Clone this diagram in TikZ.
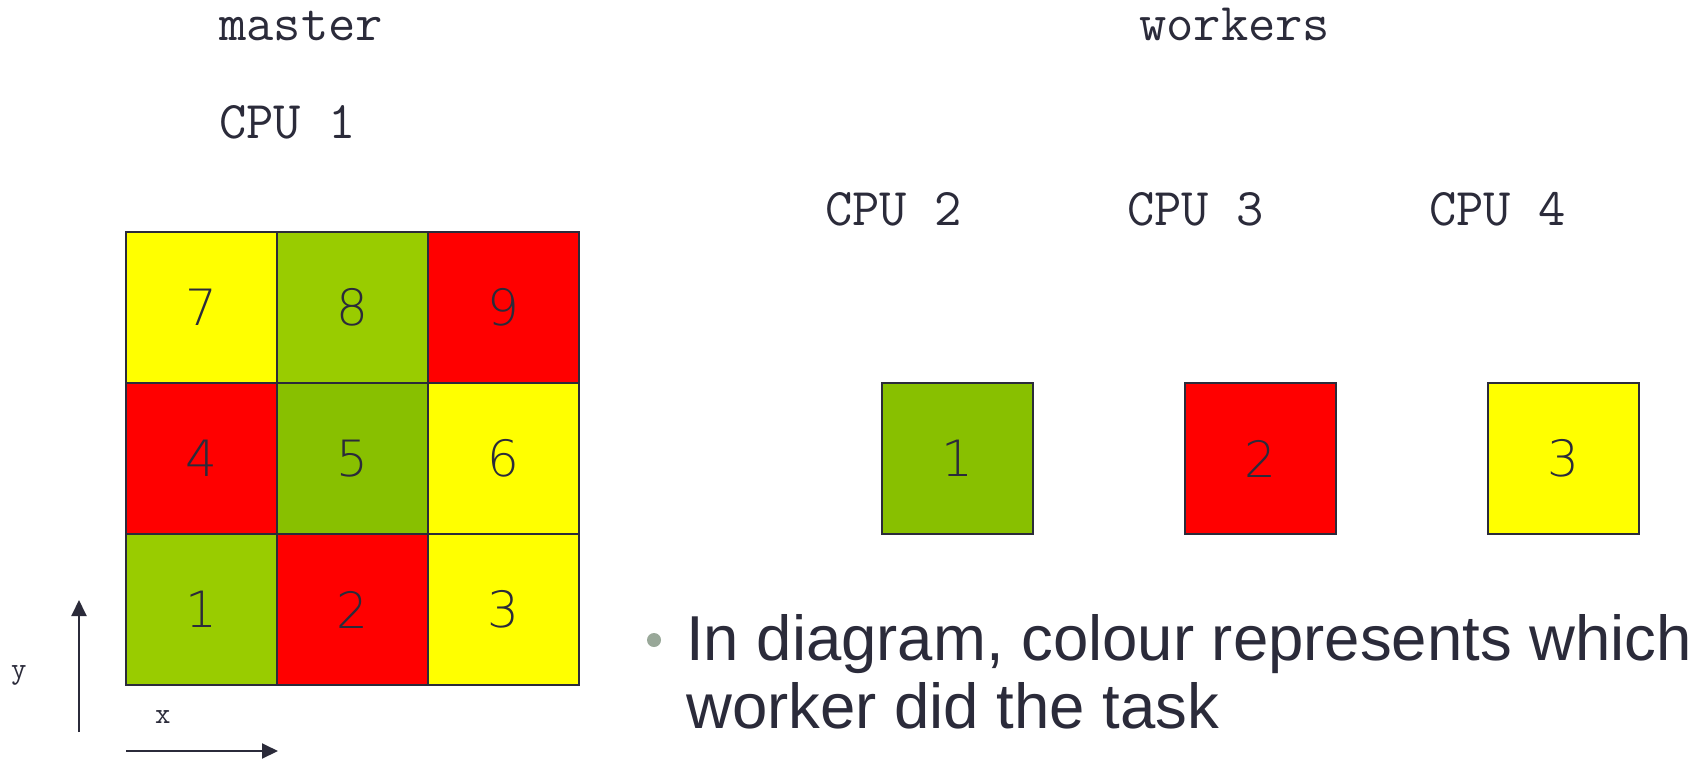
\documentclass[tikz,border=0pt]{standalone}
\usepackage{fontspec}
\setmainfont{Liberation Sans}
\newfontfamily\digitfont{DejaVu Sans ExtraLight}
\usepackage{tikz}
\usetikzlibrary{arrows.meta}

\definecolor{ink}{HTML}{2B2B3A}
\definecolor{lime}{HTML}{99CC00}
\definecolor{leaf}{HTML}{88C000}
\definecolor{cred}{HTML}{FF0000}
\definecolor{cyellow}{HTML}{FFFF00}
\definecolor{bulletgrey}{HTML}{99A899}

\begin{document}
\begin{tikzpicture}
			[x=1pt,y=-1pt,
			cell/.style= {draw=ink,line width=2.5pt,minimum size=151pt,inner sep=0pt,text=ink,font=\digitfont\fontsize{50}{50}\selectfont},
			lbl/.style= {anchor=base west,inner sep=0pt,text=ink,font=\ttfamily\fontsize{53}{53}\selectfont},
			axislbl/.style= {anchor=base west,inner sep=0pt,text=ink,font=\ttfamily\fontsize{30}{30}\selectfont},
			axis/.style= {draw=ink,line width=2pt,-{Triangle[length=16pt,width=15pt]}}]

			\useasboundingbox (0,0) rectangle (1707,761);

			% labels
			\node[lbl] (master) at (219,40) {master};
			\node[lbl] (cpu1) at (219,138) {CPU 1};
			\node[lbl] (workers) at (1139,40) {workers};
			\node[lbl] (cpu2) at (825,225) {CPU 2};
			\node[lbl] (cpu3) at (1127,225) {CPU 3};
			\node[lbl] (cpu4) at (1429,225) {CPU 4};

			% master grid
			\node[cell,fill=cyellow] (c7) at (201.5,307.5) {7};
			\node[cell,fill=lime] (c8) at (352.5,307.5) {8};
			\node[cell,fill=cred] (c9) at (503.5,307.5) {9};
			\node[cell,fill=cred] (c4) at (201.5,458.5) {4};
			\node[cell,fill=leaf] (c5) at (352.5,458.5) {5};
			\node[cell,fill=cyellow] (c6) at (503.5,458.5) {6};
			\node[cell,fill=lime] (c1) at (201.5,609.5) {1};
			\node[cell,fill=cred] (c2) at (352.5,609.5) {2};
			\node[cell,fill=cyellow] (c3) at (503.5,609.5) {3};

			% workers
			\node[cell,fill=leaf] (w1) at (957.5,458.5) {1};
			\node[cell,fill=cred] (w2) at (1260.5,458.5) {2};
			\node[cell,fill=cyellow] (w3) at (1563.5,458.5) {3};

			% axes
			\coordinate (y0) at (79,732);
			\coordinate (y1) at (79,600);
			\coordinate (x0) at (126,751);
			\coordinate (x1) at (278,751);
			\draw[axis] (y0) -- (y1);
			\draw[axis] (x0) -- (x1);
			\node[axislbl] (ylbl) at (11,678) {y};
			\node[axislbl] (xlbl) at (155,723) {x};

			% note
			\fill[bulletgrey] (654,640) circle (7pt);
			\node[anchor=base west,inner sep=0pt,text=ink,align=left,font=\fontsize{63.5}{68}\selectfont] (note) at (686,728)
				{In diagram, colour represents which\\worker did the task};

		\end{tikzpicture}
\end{document}
